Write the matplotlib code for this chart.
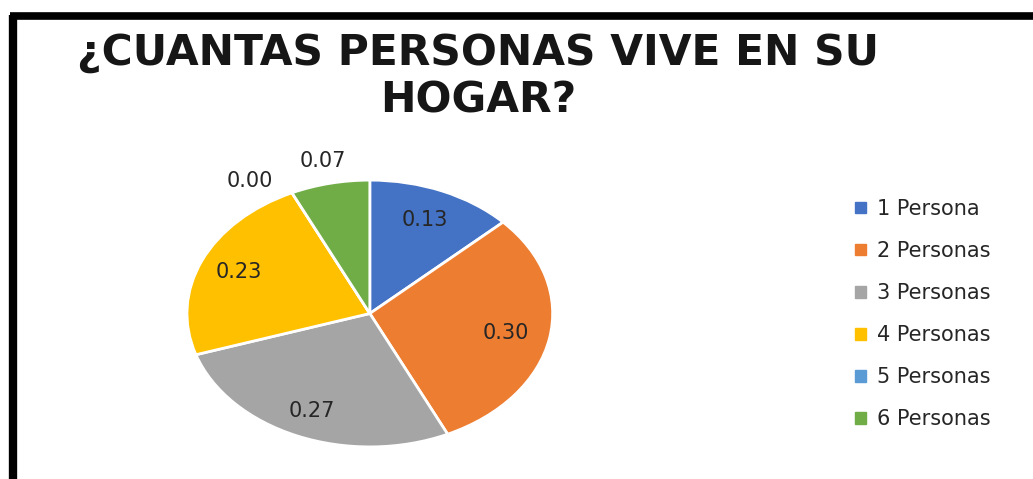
import numpy as np
import matplotlib
matplotlib.use('Agg')
import matplotlib.pyplot as plt
from matplotlib.lines import Line2D

# Datos
categorias = ['1 Persona', '2 Personas', '3 Personas', '4 Personas', '5 Personas', '6 Personas']
valores = [0.13, 0.30, 0.27, 0.23, 0.00, 0.07]
colores = ['#4472C4', '#ED7D31', '#A5A5A5', '#FFC000', '#5B9BD5', '#70AD47']
# distancia de cada etiqueta al centro (las pequeñas van fuera)
dist_etiquetas = [0.76, 0.76, 0.80, 0.78, 1.10, 1.17]

plt.rcParams['font.family'] = ['DejaVu Sans']

fig = plt.figure(figsize=(10.33, 4.79), dpi=100)
fig.patch.set_facecolor('white')

# Borde negro (izquierda y arriba)
fig.add_artist(Line2D([0.0126, 0.0126], [-0.1, 0.968], color='black', lw=6, transform=fig.transFigure, solid_capstyle='butt'))
fig.add_artist(Line2D([0.0097, 1.1], [0.967, 0.967], color='black', lw=5.5, transform=fig.transFigure, solid_capstyle='butt'))

# Titulo
fig.text(0.463, 0.840, '¿CUANTAS PERSONAS VIVE EN SU\nHOGAR?', ha='center', va='center',
         fontsize=30.5, fontweight='bold', color='#161616', linespacing=1.16)

# Grafica de pastel (estirada horizontalmente como en la imagen)
ax = fig.add_axes([0.181, 0.067, 0.354, 0.557])
wedges, _ = ax.pie(valores, colors=colores, startangle=90, counterclock=False,
                   wedgeprops={'edgecolor': 'white', 'linewidth': 2})
ax.set_aspect('auto')
ax.set_xlim(-1, 1)
ax.set_ylim(-1, 1)

for w, v, d in zip(wedges, valores, dist_etiquetas):
    ang = np.deg2rad((w.theta1 + w.theta2) / 2)
    x, y = d * np.cos(ang), d * np.sin(ang)
    if v == 0.00:
        x -= 0.19
    ax.text(x, y, f'{v:.2f}', ha='center', va='center', fontsize=15, color='#262626', clip_on=False)

# Leyenda
handles = [plt.Rectangle((0, 0), 1, 1, color=c) for c in colores]
fig.legend(handles, categorias, loc='upper left', bbox_to_anchor=(0.81, 0.624),
           frameon=False, fontsize=15, handlelength=0.5, handleheight=0.5,
           handletextpad=0.55, labelspacing=1.06, labelcolor='#262626')

fig.savefig('out.png', dpi=100)
